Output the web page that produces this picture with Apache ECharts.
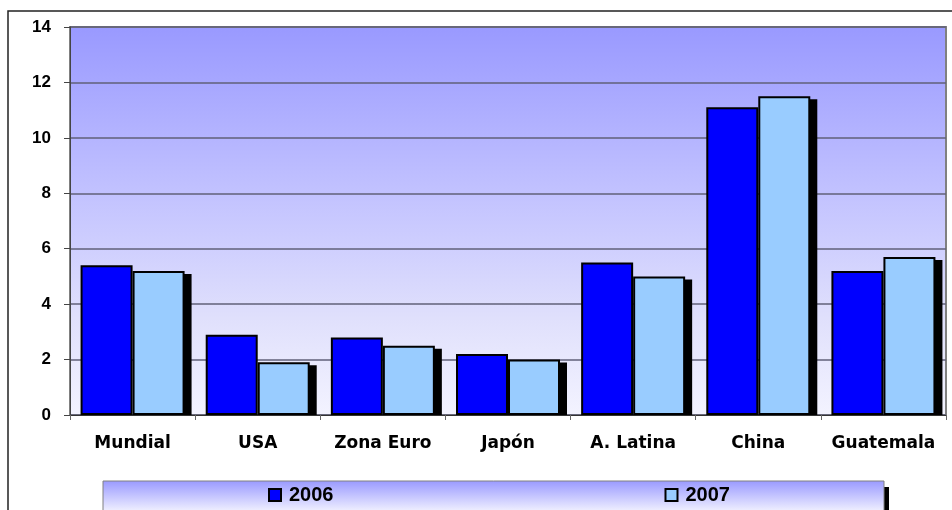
<!DOCTYPE html>
<html>
<head>
<meta charset="utf-8">
<script src="https://cdn.jsdelivr.net/npm/echarts@6/dist/echarts.min.js"></script>
<style>
  html, body { margin: 0; padding: 0; background: #fff; }
  #chart { width: 952px; height: 510px; }
</style>
</head>
<body>
<div id="chart"></div>
<script>
//data
var categories = ['Mundial', 'USA', 'Zona Euro', 'Japón', 'A. Latina', 'China', 'Guatemala'];
var values2006 = [5.4, 2.9, 2.8, 2.2, 5.5, 11.1, 5.2];
var values2007 = [5.2, 1.9, 2.5, 2.0, 5.0, 11.5, 5.7];
var yTicks = [0, 2, 4, 6, 8, 10, 12, 14];

var BAR_W = 52;

var chart = echarts.init(document.getElementById('chart'));

//shadow behind the 2007 bars
var shadowData = values2007.map(function(v, i) { return [i, v]; });

chart.setOption({
  animation: false,
  graphic: [
    // outer frame
    { type: 'rect', z: 0, shape: { x: 8, y: 11, width: 980, height: 540 },
      style: { fill: 'none', stroke: '#222', lineWidth: 1.5 } },
    // legend shadow
    { type: 'rect', z: 1, shape: { x: 884, y: 487, width: 5, height: 30 },
      style: { fill: '#000' } },
    // legend box
    { type: 'rect', z: 2, shape: { x: 103, y: 481, width: 781, height: 40 },
      style: {
        stroke: '#808080', lineWidth: 1,
        fill: { type: 'linear', x: 0, y: 0, x2: 0, y2: 1,
          colorStops: [{ offset: 0, color: '#9999ff' }, { offset: 0.75, color: '#f0f0ff' }, { offset: 1, color: '#f4f4ff' }] }
      } }
  ],
  grid: {
    left: 70, top: 27, right: 6, bottom: 95,
    show: true,
    borderColor: '#808080',
    borderWidth: 2,
    backgroundColor: { type: 'linear', x: 0, y: 0, x2: 0, y2: 1,
      colorStops: [
        { offset: 0, color: '#9999ff' },
        { offset: 0.45, color: '#c4c4ff' },
        { offset: 0.75, color: '#e0e0fc' },
        { offset: 1, color: '#f3f3ff' }
      ] }
  },
  legend: {
    data: ['2006', '2007'],
    left: 268, top: 485,
    padding: 0,
    itemWidth: 12, itemHeight: 12,
    itemGap: 331,
    icon: 'rect',
    textStyle: { fontFamily: 'Liberation Sans', fontWeight: 'bold', fontSize: 20, color: '#000', lineHeight: 20, padding: [0, 0, 0, 3] }
  },
  xAxis: {
    type: 'category',
    data: categories,
    axisLine: { lineStyle: { color: '#333', width: 1 } },
    axisTick: { show: true, interval: 0, length: 5, lineStyle: { color: '#666' } },
    axisLabel: { interval: 0, margin: 20, fontFamily: 'DejaVu Sans', fontWeight: 'bold', fontSize: 17, color: '#000' },
    splitLine: { show: false }
  },
  yAxis: {
    type: 'value',
    min: yTicks[0], max: yTicks[yTicks.length - 1], interval: 2,
    axisLine: { show: true, lineStyle: { color: '#444', width: 1 } },
    axisTick: { show: true, length: 6, lineStyle: { color: '#444' } },
    axisLabel: { margin: 19, fontFamily: 'Liberation Sans', fontWeight: 'bold', fontSize: 17, color: '#000' },
    splitLine: { show: true, lineStyle: { color: '#606078', width: 1.5 } }
  },
  series: [
    {
      type: 'custom',
      name: 'shadow',
      z: 1,
      silent: true,
      renderItem: function(params, api) {
        var top = api.coord([api.value(0), api.value(1)]);
        var base = api.coord([api.value(0), 0]);
        return {
          type: 'rect',
          shape: { x: top[0] + 7, y: top[1] + 3, width: BAR_W, height: base[1] - top[1] - 3 },
          style: { fill: '#000' }
        };
      },
      data: shadowData
    },
    {
      name: '2006',
      type: 'bar',
      z: 2,
      barWidth: BAR_W,
      barGap: '0%',
      itemStyle: { color: '#0000ff', borderColor: '#000', borderWidth: 2 },
      data: values2006
    },
    {
      name: '2007',
      type: 'bar',
      z: 2,
      barWidth: BAR_W,
      barGap: '0%',
      itemStyle: { color: '#99ccff', borderColor: '#000', borderWidth: 2 },
      data: values2007
    }
  ]
});
</script>
</body>
</html>
